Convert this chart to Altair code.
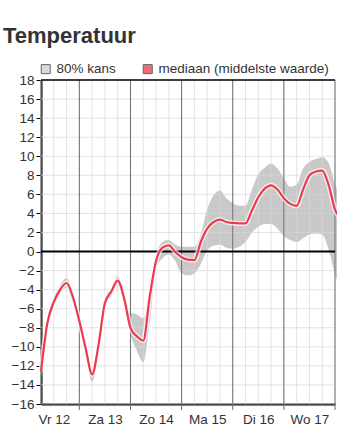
import altair as alt
import pandas as pd

# ---- data (hours since Fri 12, 06:00) ----
hours = list(range(0, 142, 3))
median = [-12.6, -7.5, -5.3, -4.0, -3.3, -4.8, -7.3, -10.2, -12.9, -9.8, -5.4, -4.2,
          -3.05, -4.9, -8.0, -8.9, -9.35, -4.8, -1.0, 0.4, 0.65, -0.05, -0.6, -0.85,
          -0.9, 1.0, 2.4, 3.1, 3.35, 3.1, 3.0, 2.95, 2.95, 4.3, 5.7, 6.6,
          6.95, 6.5, 5.6, 5.0, 4.8, 6.5, 8.0, 8.4, 8.5, 7.0, 4.4, 3.5]
upper = [-12.1, -7.0, -4.8, -3.5, -2.8, -4.2, -6.9, -9.7, -12.4, -9.3, -4.9, -3.8,
         -2.6, -4.4, -6.4, -6.6, -7.0, -4.0, -0.4, 1.0, 1.2, 0.7, 0.5, 0.5,
         0.5, 1.8, 4.4, 5.9, 6.4, 5.6, 5.1, 4.8, 4.8, 6.5, 8.1, 8.8,
         9.2, 8.7, 7.7, 6.8, 7.0, 8.7, 9.4, 9.7, 9.9, 9.3, 7.1, 5.5]
lower = [-13.2, -8.0, -5.8, -4.5, -3.8, -5.4, -7.9, -10.8, -13.7, -10.5, -6.0, -4.7,
         -3.6, -5.4, -8.7, -10.4, -11.6, -7.5, -1.9, -0.7, -0.3, -1.0, -2.3, -2.5,
         -2.3, -1.3, 0.1, 0.6, 0.7, 0.4, 0.3, 0.5, 1.0, 2.0, 2.6, 2.9,
         2.9, 2.4, 1.6, 1.2, 1.0, 1.4, 1.8, 1.9, 1.8, 0.2, -2.4, -4.0]

day_labels = ["Vr 12", "Za 13", "Zo 14", "Ma 15", "Di 16", "Wo 17"]
label_hours = [6, 30, 54, 78, 102, 126]
midnight_hours = [18, 42, 66, 90, 114, 138]
grid_hours = list(range(0, 139, 6))
y_ticks = list(range(-16, 19, 2))
legend_names = ["80% kans", "mediaan (middelste waarde)"]
legend_colors = ["#cccccc", "#e8323f"]

X_DOMAIN = [0, 138]
Y_DOMAIN = [-16, 18]
FONT = "Liberation Sans"

df = pd.DataFrame({"h": hours, "median": median, "upper": upper, "lower": lower})
vgrid = pd.DataFrame({"h": grid_hours})
hgrid = pd.DataFrame({"v": y_ticks})
mids = pd.DataFrame({"h": midnight_hours})
legend_df = pd.DataFrame({"serie": legend_names})

xscale = alt.Scale(domain=X_DOMAIN, nice=False, zero=False)
yscale = alt.Scale(domain=Y_DOMAIN, nice=False, zero=False)

label_expr = "[" + ",".join(f"'{d}'" for d in day_labels) + "][round((datum.value-6)/24)]"

x_axis = alt.Axis(values=label_hours, labelExpr=label_expr, ticks=False, grid=False,
                  domainColor="#000", domainWidth=2, labelFontSize=13.5, labelFont=FONT,
                  labelColor="#333", labelPadding=8, title=None)
y_axis = alt.Axis(values=y_ticks, grid=False, tickSize=5, tickColor="#000", tickWidth=1,
                  domainColor="#000", domainWidth=2, labelFontSize=13.5, labelFont=FONT,
                  labelColor="#333", labelPadding=2, title=None,
                  labelOverlap=False, labelBound=False, labelFlush=False)


def X(field):
    return alt.X(field, scale=xscale, axis=x_axis)


def Y(field):
    return alt.Y(field, scale=yscale, axis=y_axis)


band = alt.Chart(df).mark_area(color="#c9c9c9", interpolate="monotone").encode(
    x=X("h:Q"), y=Y("upper:Q"), y2="lower:Q",
)

vg = alt.Chart(vgrid).mark_rule(color="#d6d6d6", strokeWidth=1, opacity=0.68).encode(
    x=X("h:Q"))
hg = alt.Chart(hgrid).mark_rule(color="#d6d6d6", strokeWidth=1, opacity=0.68).encode(
    y=Y("v:Q"))

mid = alt.Chart(mids).mark_rule(color="#6e6e6e", strokeWidth=1).encode(
    x=X("h:Q"), y=alt.value(0), y2=alt.value(330))

zero = alt.Chart(pd.DataFrame({"v": [0]})).mark_rule(color="#000", strokeWidth=2).encode(
    y=Y("v:Q"))
top = alt.Chart(pd.DataFrame({"v": [Y_DOMAIN[1]]})).mark_rule(color="#000", strokeWidth=1.5).encode(
    y=Y("v:Q"))

halo = alt.Chart(df).mark_line(color="#ffffff", strokeWidth=5, opacity=0.7,
                               interpolate="monotone").encode(
    x=X("h:Q"), y=Y("median:Q"))
line = alt.Chart(df).mark_line(color="#ee3a4c", strokeWidth=2.2,
                               interpolate="monotone").encode(
    x=X("h:Q"), y=Y("median:Q"))

leg = alt.Chart(legend_df).mark_square(filled=True, stroke="#222", strokeWidth=1).encode(
    color=alt.Color("serie:N", scale=alt.Scale(domain=legend_names, range=legend_colors),
                    legend=alt.Legend(orient="none", legendX=-2, legendY=-18,
                                      direction="horizontal", title=None,
                                      symbolType="square", symbolSize=81,
                                      symbolStrokeColor="#222", symbolStrokeWidth=1,
                                      labelFontSize=13.5, labelFont=FONT, labelColor="#333",
                                      labelLimit=0, columnPadding=25, labelOffset=4,
                                      padding=0))
).transform_filter("false")

chart = alt.layer(band, vg, hg, mid, zero, top, halo, line, leg).properties(
    width=294, height=324,
    title=alt.TitleParams("Temperatuur", anchor="start", frame="group", dx=-38,
                          fontSize=22, font=FONT, fontWeight="bold", color="#333",
                          offset=14),
    autosize=alt.AutoSizeParams(type="none"),
    padding={"left": 41, "top": 80, "right": 2, "bottom": 31},
).configure_view(stroke=None)

chart.save("out.html", embed_options={"renderer": "svg", "actions": False})
